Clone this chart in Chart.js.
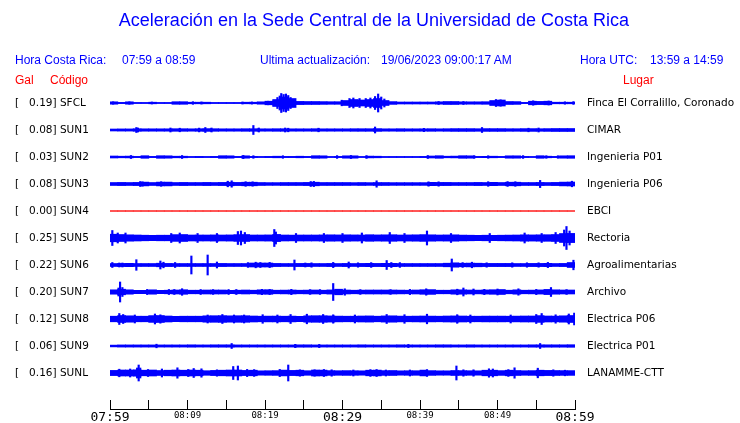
<!DOCTYPE html>
<html lang="es">
<head>
  <meta charset="UTF-8">
  <title>Aceleración en la Sede Central de la Universidad de Costa Rica</title>
  <script src="https://cdn.jsdelivr.net/npm/chart.js"></script>
  <style>
    body { margin: 0; background: #fff; font-family: 'Liberation Sans', Arial, sans-serif; }
    #wrap { position: relative; width: 740px; height: 423px; overflow: hidden; }
    #chart { position: absolute; left: 0; top: 0; }
    .t { position: absolute; white-space: pre; font-size: 12px; line-height: 12px; color: #0000ff; }
    .red { color: #ff0000; }
    #title { left: 4px; width: 740px; top: 11px; font-size: 18px; line-height: 18px; text-align: center; }
  </style>
</head>
<body>
<div id="wrap">
  <canvas id="chart" width="740" height="423"></canvas>
  <div class="t" id="title">Aceleración en la Sede Central de la Universidad de Costa Rica</div>
  <div class="t" style="left:15px; top:54px;">Hora Costa Rica:</div>
  <div class="t" style="left:122px; top:54px;">07:59 a 08:59</div>
  <div class="t" style="left:260px; top:54px;">Ultima actualización:</div>
  <div class="t" style="left:381px; top:54px;">19/06/2023 09:00:17 AM</div>
  <div class="t" style="left:580px; top:54px;">Hora UTC:</div>
  <div class="t" style="left:650px; top:54px;">13:59 a 14:59</div>
  <div class="t red" style="left:15px; top:74px;">Gal</div>
  <div class="t red" style="left:50px; top:74px;">Código</div>
  <div class="t red" style="left:623px; top:74px;">Lugar</div>
</div>

<script>
// estaciones, aceleracion maxima (gal) y lugar
const stations = ['SFCL', 'SUN1', 'SUN2', 'SUN3', 'SUN4', 'SUN5', 'SUN6', 'SUN7', 'SUN8', 'SUN9', 'SUNL'];
const peakGal = [0.19, 0.08, 0.03, 0.08, 0.00, 0.25, 0.22, 0.20, 0.12, 0.06, 0.16];
const places = ['Finca El Corralillo, Coronado', 'CIMAR', 'Ingenieria P01', 'Ingenieria P06', 'EBCI',
  'Rectoria', 'Agroalimentarias', 'Archivo', 'Electrica P06', 'Electrica P01', 'LANAMME-CTT'];

// eje de tiempo: minutos desde 07:59, marca cada 5 min
const tickLabels = ['07:59', '', '08:09', '', '08:19', '', '08:29', '', '08:39', '', '08:49', '', '08:59'];

// envolvente de cada traza, un valor por minuto (semi-amplitud)
const envSFCL = [1.2,0.6,1.2,0.5,0.5,0.8,0.5,0.5,1.3,1.3,0.8,0.8,0.8,0.5,0.5,0.5,0.5,0.8,0.8,1.2,1.8,3.5,6,4.5,1.6,1.5,1.5,1.4,1.3,1.3,2.5,3.5,3,3.5,4.5,2.5,1.4,1,1,1,1,1,1.2,1.5,1.5,1.2,1.2,1.2,1.3,2.5,3,1.5,1.4,0.6,1.8,1.6,1.8,0.8,0.8,0.8];
const envSUN1 = [1.0,1.1,1.1,1.3,1.2,1.2,1.2,1.2,1.3,1.3,1.2,1.3,1.4,1.3,1.2,1.2,1.2,1.3,1.3,1.2,1.2,1.3,1.3,1.2,1.2,1.2,1.3,1.2,1.2,1.2,1.2,1.3,1.3,1.3,1.4,1.2,1.2,1.3,1.2,1.2,1.2,1.3,1.2,1.3,1.4,1.4,1.4,1.3,1.4,1.4,1.4,1.3,1.3,1.4,1.4,1.3,1.4,1.5,1.5,1.5];
const envSUN2 = [1.0,0.8,0.9,0.6,1.3,0.6,1.3,1.2,0.8,0.8,0.5,0.6,0.5,0.6,1.3,1.2,0.6,1.2,0.6,0.5,0.6,0.8,0.6,0.6,0.8,0.6,1.3,1.2,0.5,0.6,1.2,1.2,0.5,0.9,0.8,0.5,0.5,0.5,0.5,0.5,0.6,1.0,1.3,0.8,0.9,1.3,1.2,0.6,0.7,0.8,0.6,1.2,1.2,0.6,0.5,1.3,0.8,0.6,1.2,1.3];
const envSUN3 = [1.5,1.6,1.5,1.6,1.9,1.5,1.9,1.9,1.5,1.6,1.5,1.5,1.6,1.5,1.6,1.8,1.6,1.8,1.8,1.5,1.4,1.4,1.5,1.5,1.5,1.6,1.8,1.5,1.5,1.5,1.5,1.4,1.5,1.4,1.5,1.5,1.4,1.4,1.4,1.4,1.4,1.7,1.6,1.6,1.5,1.5,1.5,1.6,1.5,1.7,1.5,1.8,1.8,1.5,1.5,1.6,1.5,1.6,1.9,2.0];
const envSUN4 = [0,0,0,0,0,0,0,0,0,0,0,0,0,0,0,0,0,0,0,0,0,0,0,0,0,0,0,0,0,0,0,0,0,0,0,0,0,0,0,0,0,0,0,0,0,0,0,0,0,0,0,0,0,0,0,0,0,0,0,0];
const envSUN5 = [3.8,3.5,3.2,3.0,2.8,2.7,2.8,2.8,3.4,3.5,3.0,3.0,3.0,3.1,3.0,3.1,3.4,3.5,3.0,3.0,3.1,3.6,3.0,2.9,3.0,3.0,3.0,3.1,3.2,3.1,3.2,3.1,3.0,3.3,3.1,3.2,3.3,3.0,3.1,3.2,3.4,3.2,3.0,3.1,3.2,2.9,2.8,2.7,2.8,2.7,2.8,2.9,3.0,3.2,3.1,3.2,3.3,3.5,4.5,4.6];
const envSUN6 = [1.5,1.6,1.7,1.5,1.5,1.5,1.8,1.6,1.5,1.5,1.5,1.5,1.5,1.5,1.6,1.5,1.5,1.5,2.0,2.0,2.0,1.6,1.5,1.5,1.6,1.6,1.5,1.5,1.6,1.5,1.6,1.5,1.6,1.7,1.6,1.7,1.7,1.5,1.5,1.5,1.5,1.5,1.5,1.8,2.2,1.8,1.9,1.8,1.6,1.6,1.6,1.6,1.5,1.5,1.6,1.6,1.7,1.5,1.6,2.5];
const envSUN7 = [2.2,2.8,2.2,1.7,1.7,2.2,1.7,1.8,2.0,2.3,1.8,1.8,2.0,2.0,2.0,1.7,1.8,2.0,1.8,2.2,2.3,1.8,1.9,2.0,1.8,1.9,2.0,1.8,2.1,2.8,2.0,1.8,1.9,2.0,2.0,2.0,2.0,1.9,1.8,2.0,2.3,2.4,1.8,1.8,2.2,2.2,2.0,1.9,2.1,2.3,2.5,1.8,2.2,1.8,1.9,2.1,2.6,2.2,2.0,2.0];
const envSUN8 = [2.8,3.5,3.2,2.8,2.8,3.4,3.5,3.0,2.7,2.8,2.8,2.8,3.2,3.3,3.4,3.2,3.3,3.3,3.0,2.8,2.9,2.9,2.8,2.9,2.7,3.2,3.3,3.3,3.1,2.9,2.8,2.8,3.0,3.1,2.8,3.1,3.2,2.9,2.8,2.9,3.0,2.9,2.8,3.0,3.1,3.0,2.8,2.8,2.9,2.9,2.9,2.8,2.9,3.0,3.0,3.4,3.0,2.9,3.2,3.5];
const envSUN9 = [0.9,1.1,1.1,1.1,1.1,1.1,1.1,1.1,1.1,1.1,1.2,1.1,1.1,1.2,1.2,1.2,1.1,1.1,1.1,1.1,1.1,1.1,1.1,1.1,1.2,1.2,1.1,1.1,1.1,1.1,1.1,1.1,1.2,1.1,1.1,1.1,1.1,1.2,1.1,1.1,1.1,1.1,1.2,1.2,1.1,1.1,1.2,1.1,1.1,1.1,1.1,1.1,1.1,1.1,1.2,1.2,1.2,1.2,1.2,1.3];
const envSUNL = [2.6,3.0,3.0,3.2,2.8,3.0,2.5,2.8,3.0,2.8,3.0,2.8,2.3,2.6,2.8,3.0,3.0,2.6,2.8,2.2,2.3,2.4,2.9,2.6,2.8,2.3,3.0,2.9,2.4,2.3,2.4,2.3,2.2,2.8,2.9,2.4,2.5,2.2,2.3,2.3,2.9,2.4,2.2,2.2,2.5,2.4,2.3,2.2,2.8,2.8,2.4,2.8,2.5,2.3,2.4,2.8,2.6,2.5,2.4,2.4];

// picos sueltos: [minuto, semi-amplitud]
const spkSFCL = [[0.4,1.2],[2.5,1.2],[5.4,1],[10.7,1.3],[11.8,1.1],[17.1,1],[18.3,1.1],[20.4,1.8],[21.1,2.3],[21.6,5.5],[21.9,7],[22.1,9.5],[22.4,8.5],[22.7,9],[23.0,7.5],[23.3,5.5],[29.9,2.8],[30.9,4.5],[31.4,5],[32.2,4.5],[33.0,4.5],[33.6,5],[34.2,6.5],[34.6,9],[35.0,6],[35.4,4],[42.4,1.5],[45.6,1.5],[49.8,3.5],[50.4,3.2],[54.6,2.2],[56.6,2],[58.7,1.2],[59.8,1.4]];
const spkSUN1 = [[3.4,2.5],[3.6,2.0],[7.8,2.0],[9.0,1.8],[11.5,1.9],[12.3,2.5],[13.1,2.0],[18.5,4.5],[19.2,2.0],[22.6,2.0],[23.0,1.8],[26.9,1.8],[34.2,3.0],[40.5,1.7],[48.0,2.5],[54.0,1.8],[55.3,2.0]];
const spkSUN2 = [[2.7,1.5],[9.3,1.5],[17.2,1.6],[18.5,1.3],[22.3,1.3],[29.3,1.4],[31.1,1.5],[33.1,1.4],[41.0,1.5],[47.0,1.3],[48.8,1.3],[53.3,1.4],[56.3,1.3],[57.8,1.3]];
const spkSUN3 = [[3.9,2.5],[4.2,2.2],[6.6,2.3],[15.2,2.8],[15.7,3.2],[17.5,2.3],[18.4,2.2],[25.9,2.5],[26.3,2.6],[34.4,3.2],[41.1,2.2],[42.4,2.2],[48.8,2.3],[51.3,2.4],[52.3,2.3],[55.5,3.6],[59.6,2.8]];
const spkSUN4 = [];
const spkSUN5 = [[0.3,7.5],[1.0,5],[2.0,5],[7.9,4.5],[9.0,5],[11.3,4.5],[13.8,4.5],[16.5,6.5],[16.9,7],[17.4,5.5],[21.2,8.5],[21.4,6],[24.0,4.5],[27.6,4.5],[30.0,4.5],[32.5,5],[36.1,5.5],[38.0,4.5],[40.9,7],[44.0,4.5],[49.0,4.5],[53.5,5],[55.7,4.5],[57.5,5.5],[58.6,8],[58.9,11.5],[59.3,7]];
const spkSUN6 = [[0.3,2.5],[1.2,2],[1.6,2],[3.4,5.3],[6.5,4],[6.9,2.8],[8.4,2.5],[10.5,9],[12.6,10],[13.8,3],[17.8,2.4],[18.8,2.8],[19.4,2.5],[20.6,2.6],[23.8,5],[25.2,2],[26.0,2.2],[28.8,2.6],[30.8,3],[32.0,2.2],[33.7,2.4],[35.7,4.5],[36.3,2.5],[37.4,2.4],[44.1,6],[45.5,2.4],[46.7,2.8],[48.6,2.2],[51.9,2.2],[53.8,2.2],[55.3,2.2],[56.5,2.6],[59.8,4.8]];
const spkSUN7 = [[1.1,4],[1.3,10],[1.6,4.5],[4.8,2.6],[7.6,2.5],[8.3,2.5],[9.3,3.3],[11.7,2.5],[13.3,2.4],[15.3,2.5],[16.3,2.5],[19.6,2.7],[20.6,2.6],[23.4,2.7],[25.8,2.4],[27.1,2.4],[28.8,8.5],[30.3,3.2],[32.3,2.4],[36.2,2.4],[38.7,2.6],[40.8,3.2],[44.8,2.8],[45.6,4],[46.9,3],[48.3,2.7],[50.0,3],[52.7,3.2],[55.0,2.6],[56.9,4.5],[58.9,2.4]];
const spkSUN8 = [[1.2,5.5],[1.7,4.5],[3.2,4],[5.8,5],[6.5,4.2],[12.6,4],[14.5,4.5],[16.0,4],[17.3,4],[19.7,4.3],[21.6,4],[23.3,4.5],[25.4,4.8],[27.5,4.5],[28.8,4.2],[31.6,4],[35.7,4.5],[38.0,4.3],[40.9,4.8],[44.8,4.3],[46.5,4],[51.7,4],[55.0,4.5],[55.7,5.5],[57.5,4.2],[59.2,5],[59.9,6]];
const spkSUN9 = [[6.0,1.8],[15.7,2.5],[23.9,1.7],[27.0,1.6],[38.5,1.6],[55.5,2.5]];
const spkSUNL = [[1.2,3.8],[2.6,4],[3.5,5],[3.7,8],[3.9,5],[4.9,3.5],[6.7,4],[8.7,5.2],[10.1,3.5],[10.8,4.5],[11.8,4.2],[13.8,3.2],[15.9,6.5],[16.5,7],[17.7,3.6],[18.6,3.4],[21.9,3.6],[23.0,8],[24.5,3.2],[26.4,3.2],[27.6,3.5],[28.6,3.2],[31.4,3],[33.6,3.4],[34.4,3.5],[35.6,3],[38.7,3],[40.9,3.4],[44.7,7],[45.6,3.2],[46.9,3.2],[48.9,4.2],[49.4,4],[51.4,3.4],[52.2,5.2],[55.2,4.8],[57.2,3.2],[58.7,2.8]];

const envelopes = [envSFCL, envSUN1, envSUN2, envSUN3, envSUN4, envSUN5, envSUN6, envSUN7, envSUN8, envSUN9, envSUNL];
const spikes = [spkSFCL, spkSUN1, spkSUN2, spkSUN3, spkSUN4, spkSUN5, spkSUN6, spkSUN7, spkSUN8, spkSUN9, spkSUNL];

const GAP = 27;          // separacion entre trazas (unidades del eje y)
const BLUE = '#0000ff';
const RED = '#ff0000';

const offsets = stations.map((s, i) => -GAP * i);
const leftLabels = stations.map((s, i) => '[   ' + peakGal[i].toFixed(2) + '] ' + s);

const datasets = [];
stations.forEach((s, i) => {
  const off = offsets[i];
  const col = peakGal[i] === 0 ? RED : BLUE;
  datasets.push({
    type: 'line', label: s + ' base',
    data: [{ x: 0, y: off }, { x: 60, y: off }],
    borderColor: col, borderWidth: 1, pointRadius: 0
  });
  datasets.push({
    label: s + ' env',
    data: envelopes[i].map((a, k) => ({ x: k + 0.5, y: [off - a, off + a] })),
    backgroundColor: col, barThickness: 7.9
  });
  datasets.push({
    label: s + ' picos',
    data: spikes[i].map(p => ({ x: p[0], y: [off - p[1], off + p[1]] })),
    backgroundColor: col, barThickness: 1.5
  });
});

const setTicks = scale => { scale.ticks = offsets.map(v => ({ value: v })); };

// linea base del eje de tiempo, por debajo de las marcas
const axisLine = {
  id: 'axisLine',
  afterDraw(chart) {
    const x = chart.scales.x, ctx = chart.ctx;
    const y = Math.round(chart.chartArea.bottom + 9) + 0.5;
    ctx.save();
    ctx.strokeStyle = '#000';
    ctx.lineWidth = 1;
    ctx.beginPath();
    ctx.moveTo(x.left, y);
    ctx.lineTo(x.right + 1, y);
    ctx.stroke();
    ctx.restore();
  }
};

new Chart(document.getElementById('chart'), {
  type: 'bar',
  data: { datasets: datasets },
  plugins: [axisLine],
  options: {
    responsive: false,
    animation: false,
    devicePixelRatio: 1,
    layout: { padding: { top: 88, left: 15, right: 0, bottom: 0 } },
    datasets: { bar: { grouped: false, borderWidth: 0 } },
    plugins: { legend: { display: false }, tooltip: { enabled: false }, title: { display: false } },
    scales: {
      x: {
        type: 'linear', min: 0, max: 60, offset: false,
        afterFit: s => { s.height = 23; },
        grid: { offset: false, drawOnChartArea: false, drawTicks: true, tickLength: 9, color: '#000' },
        border: { display: false },
        ticks: {
          stepSize: 5, maxRotation: 0, autoSkip: false, padding: 1, color: '#000',
          font: c => ({ family: 'DejaVu Sans Mono', size: (c.tick && c.tick.value % 30 === 0) ? 13 : 9 }),
          callback: (v) => tickLabels[Math.round(v / 5)]
        }
      },
      y: {
        type: 'linear', position: 'left', min: -GAP * 10 - 27, max: 15,
        afterFit: s => { s.width = 95; },
        afterBuildTicks: setTicks,
        grid: { display: false }, border: { display: false },
        ticks: {
          crossAlign: 'far', color: '#000', autoSkip: false,
          font: { family: 'DejaVu Sans', size: 10.5 },
          callback: (v, i) => leftLabels[i]
        }
      },
      y2: {
        type: 'linear', position: 'right', min: -GAP * 10 - 27, max: 15,
        afterFit: s => { s.width = 165; },
        afterBuildTicks: setTicks,
        grid: { display: false, drawTicks: false }, border: { display: false },
        ticks: {
          crossAlign: 'near', padding: 12, color: '#000', autoSkip: false,
          font: { family: 'DejaVu Sans', size: 10.5 },
          callback: (v, i) => places[i]
        }
      }
    }
  }
});
</script>
</body>
</html>
